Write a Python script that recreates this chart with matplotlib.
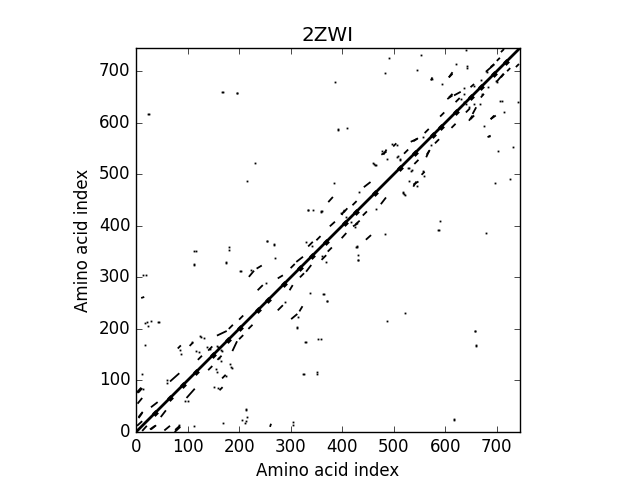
import matplotlib
matplotlib.use("Agg")
import matplotlib.pyplot as plt

# contact map of 2ZWI
n_residues = 745

# stripes of contacts, one row per stripe: (i0, j0, i1, j1)
stripe_i0 = [5, 0, 29, 66, 81, 104, 157, 234, 236, 275, 311, 334, 373, 376, 403,
             442, 476, 499, 533, 607, 604, 617, 649, 688, 708, 680, 12, 55, 76,
             27, 260, 421, 538, 649, 688, 682, 564, 219,
             120, 140, 180, 200, 300, 350, 420, 520, 560, 590, 620, 700]
stripe_j0 = [29, 75, 48, 98, 162, 167, 187, 317, 275, 298, 330, 360, 446, 399, 426,
             475, 538, 554, 563, 688, 646, 653, 669, 708, 737, 700, 2, 3, 4,
             5, 10, 399, 480, 607, 607, 572, 538, 301,
             140, 158, 200, 218, 318, 372, 440, 540, 580, 612, 640, 720]
stripe_i1 = [13, 10, 42, 84, 87, 111, 176, 244, 246, 285, 324, 343, 382, 386, 410,
             455, 486, 505, 546, 614, 614, 630, 656, 695, 714, 695, 21, 66, 85,
             37, 262, 431, 548, 656, 695, 688, 570, 229,
             128, 148, 188, 208, 308, 358, 428, 528, 568, 598, 628, 706]
stripe_j1 = [39, 86, 58, 114, 168, 174, 196, 323, 285, 304, 340, 369, 456, 408, 434,
             485, 544, 560, 569, 698, 653, 660, 675, 714, 743, 713, 12, 12, 12,
             12, 16, 405, 486, 614, 614, 575, 547, 313,
             148, 166, 208, 226, 326, 380, 448, 548, 588, 620, 648, 726]

# single contacts
contact_i = [24, 169, 196, 231, 216, 344, 358, 491, 552, 640, 484, 546, 620, 643,
             387, 575, 594, 669, 707, 392, 392, 410, 497, 507, 572, 478, 507, 513,
             461, 487, 384, 432, 254, 267, 116, 113, 180, 175, 202, 224, 14, 252,
             18, 24, 43, 125, 131, 137, 144, 160, 166, 11, 364, 371, 657, 659, 617,
             428, 430, 361, 368, 175, 214, 214, 216, 305, 338, 312, 328, 358, 325,
             351, 84, 169, 60, 60, 85, 88, 117, 123, 126, 334, 360, 398, 408, 636,
             636, 636, 509, 528, 518, 460, 466, 680, 698, 672, 630]
contact_j = [617, 659, 657, 521, 486, 430, 426, 726, 731, 741, 697, 702, 714, 710,
             679, 684, 676, 682, 643, 588, 585, 590, 559, 556, 556, 546, 533, 530,
             520, 530, 484, 465, 371, 363, 352, 324, 354, 329, 313, 314, 305, 290,
             211, 206, 213, 187, 183, 164, 161, 165, 158, 112, 268, 255, 195, 166, 25,
             358, 334, 342, 329, 109, 45, 22, 30, 20, 270, 203, 174, 180, 113,
             112, 14, 18, 95, 100, 160, 152, 158, 155, 185, 431, 428, 425, 418, 640,
             668, 655, 535, 512, 463, 521, 518, 701, 681, 656, 646]

# dense knots on the diagonal
knot_index = [37, 66, 91, 117, 150, 179, 202, 237, 257, 288, 319, 342, 369, 406,
              426, 463, 513, 542, 576, 591, 620, 649, 669, 694, 717]

plt.style.use("classic")
fig = plt.figure(figsize=(6.4, 4.8), dpi=100, facecolor="white")
ax = fig.add_subplot(111)

# main diagonal
ax.plot([0, n_residues], [0, n_residues], color="k", linewidth=2.0)
ax.plot(knot_index, knot_index, "kD", markersize=3.5, markeredgewidth=0)

# stripes, drawn on both sides of the diagonal
for a0, b0, a1, b1 in zip(stripe_i0, stripe_j0, stripe_i1, stripe_j1):
    ax.plot([a0, a1], [b0, b1], color="k", linewidth=1.3, solid_capstyle="butt")
    ax.plot([b0, b1], [a0, a1], color="k", linewidth=1.3, solid_capstyle="butt")

# single contacts, symmetric
ax.plot(contact_i, contact_j, "ks", markersize=1.3, markeredgewidth=0)
ax.plot(contact_j, contact_i, "ks", markersize=1.3, markeredgewidth=0)

ax.set_xlim(0, n_residues)
ax.set_ylim(0, n_residues)
ax.set_aspect("equal")
ax.set_title("2ZWI")
ax.set_xlabel("Amino acid index")
ax.set_ylabel("Amino acid index")

fig.savefig("out.png", dpi=100, facecolor="white")
